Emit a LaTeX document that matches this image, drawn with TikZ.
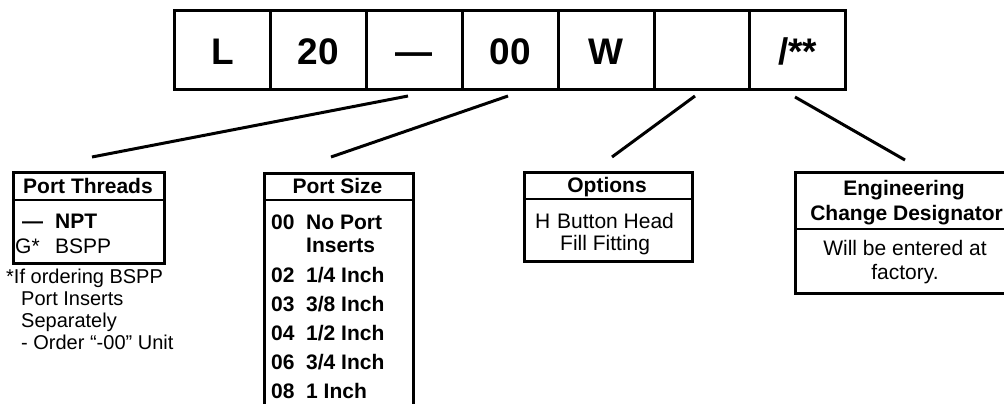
\documentclass[tikz,border=0pt]{standalone}
\usepackage{fontspec}
\setmainfont{Liberation Sans}
\begin{document}
\begin{tikzpicture}[x=1pt,y=-1pt,
  cell/.style={draw, line width=3pt, minimum width=95.9pt, minimum height=79pt, inner sep=0pt, anchor=north west},
  celltext/.style={anchor=base, inner sep=0pt, font=\fontsize{37}{42}\selectfont\bfseries},
  boxframe/.style={draw, line width=2.8pt, inner sep=0pt, anchor=north west},
  divider/.style={line width=2.8pt},
  conn/.style={line width=3pt},
  tb/.style={inner sep=0pt, font=\fontsize{21}{25}\selectfont\bfseries},
  tr/.style={inner sep=0pt, font=\fontsize{21}{25}\selectfont},
  fn/.style={inner sep=0pt, font=\fontsize{20}{24}\selectfont},
]
\useasboundingbox (0,0) rectangle (1004,404);
\clip (0,0) rectangle (1004,404);

% top code row
\node[cell] (c1) at (173,9) {};
\node[cell] (c2) at (268.9,9) {};
\node[cell] (c3) at (364.8,9) {};
\node[cell] (c4) at (460.7,9) {};
\node[cell] (c5) at (556.6,9) {};
\node[cell] (c6) at (652.5,9) {};
\node[cell] (c7) at (748.4,9) {};
\node[celltext] (t1) at ([yshift=-14.5pt]c1.center) {L};
\node[celltext] (t2) at ([yshift=-14.5pt]c2.center) {20};
\node[celltext] (t3) at ([yshift=-14.5pt]c3.center) {—};
\node[celltext] (t4) at ([yshift=-14.5pt]c4.center) {00};
\node[celltext] (t5) at ([yshift=-14.5pt]c5.center) {W};
\node[celltext] (t7) at ([yshift=-14.5pt]c7.center) {/**};

% Port Threads box
\node[boxframe, minimum width=151pt, minimum height=91pt] (pt) at (12,171) {};
\draw[divider] (pt.west |- 0,200) -- (pt.east |- 0,200);
\node[tb, anchor=base] (ptT) at (88,193) {Port Threads};
\node[tb, anchor=base west] (ptA) at (22,228) {—};
\node[tb, anchor=base west] (ptB) at (55,228) {NPT};
\node[tr, anchor=base west] (ptC) at (15,253) {G*};
\node[tr, anchor=base west] (ptD) at (55,253) {BSPP};
\node[fn, anchor=base west] (fn1) at (6,283) {*If ordering BSPP};
\node[fn, anchor=base west] (fn2) at (21,305) {Port Inserts};
\node[fn, anchor=base west] (fn3) at (21,327) {Separately};
\node[fn, anchor=base west] (fn4) at (21,349) {- Order “-00” Unit};

% Port Size box
\node[boxframe, minimum width=149pt, minimum height=260pt] (ps) at (263,172) {};
\draw[divider] (ps.west |- 0,200) -- (ps.east |- 0,200);
\node[tb, anchor=base] (psT) at (337.5,193) {Port Size};
\node[tb, anchor=base west] (n1) at (271,229) {00};
\node[tb, anchor=base west] (d1) at (306,229) {No Port};
\node[tb, anchor=base west] (d1b) at (306,252) {Inserts};
\node[tb, anchor=base west] (n2) at (271,282) {02};
\node[tb, anchor=base west] (d2) at (306,282) {1/4 Inch};
\node[tb, anchor=base west] (n3) at (271,311) {03};
\node[tb, anchor=base west] (d3) at (306,311) {3/8 Inch};
\node[tb, anchor=base west] (n4) at (271,340) {04};
\node[tb, anchor=base west] (d4) at (306,340) {1/2 Inch};
\node[tb, anchor=base west] (n6) at (271,369) {06};
\node[tb, anchor=base west] (d6) at (306,369) {3/4 Inch};
\node[tb, anchor=base west] (n8) at (271,398) {08};
\node[tb, anchor=base west] (d8) at (306,398) {1 Inch};

% Options box
\node[boxframe, minimum width=168pt, minimum height=89pt] (op) at (523,171) {};
\draw[divider] (op.west |- 0,199) -- (op.east |- 0,199);
\node[tb, anchor=base] (opT) at (607,192) {Options};
\node[tr, anchor=base west] (opH) at (535,228) {H};
\node[tr, anchor=base west] (opB) at (557,228) {Button Head};
\node[tr, anchor=base west] (opF) at (560,250) {Fill Fitting};

% Engineering box
\node[boxframe, minimum width=224pt, minimum height=121pt] (ec) at (794,171) {};
\draw[divider] (ec.west |- 0,229) -- (ec.east |- 0,229);
\node[tb, anchor=base] (ecT1) at (904,195) {Engineering};
\node[tb, anchor=base east] (ecT2) at (1003,220) {Change Designator};
\node[tr, anchor=base] (ecB1) at (905,255) {Will be entered at};
\node[tr, anchor=base] (ecB2) at (905,279) {factory.};

% connectors
\coordinate (a1) at (408,96);
\coordinate (b1) at (92,157);
\coordinate (a2) at (508,96);
\coordinate (b2) at (331,157);
\coordinate (a3) at (695,96);
\coordinate (b3) at (612,157);
\coordinate (a4) at (795,97);
\coordinate (b4) at (905,160);
\draw[conn] (a1) -- (b1);
\draw[conn] (a2) -- (b2);
\draw[conn] (a3) -- (b3);
\draw[conn] (a4) -- (b4);
\end{tikzpicture}
\end{document}
